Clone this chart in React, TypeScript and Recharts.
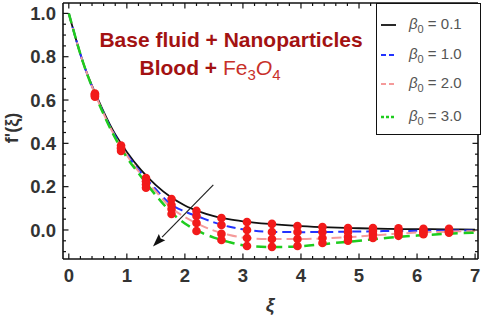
import React from "react";
import {
  ComposedChart,
  Line,
  Scatter,
  XAxis,
  YAxis,
  Legend,
  ReferenceLine,
} from "recharts";

// curve samples (xi) and f'(xi)
const xi = [0, 0.25, 0.5, 0.75, 1, 1.25, 1.5, 1.75, 2, 2.25, 2.5, 2.75, 3, 3.5, 4, 4.5, 5, 5.5, 6, 6.5, 7];
const beta01 = [1, 0.77, 0.605, 0.465, 0.36, 0.275, 0.207, 0.153, 0.113, 0.085, 0.064, 0.05, 0.04, 0.027, 0.018, 0.012, 0.008, 0.005, 0.004, 0.003, 0.002];
const beta10 = [1, 0.77, 0.6, 0.458, 0.35, 0.262, 0.188, 0.12, 0.085, 0.06, 0.035, 0.016, 0.003, -0.009, -0.01, -0.009, -0.007, -0.005, -0.004, -0.003, -0.002];
const beta20 = [1, 0.77, 0.598, 0.455, 0.345, 0.255, 0.178, 0.105, 0.06, 0.025, -0.003, -0.022, -0.035, -0.042, -0.042, -0.037, -0.03, -0.02, -0.012, -0.008, -0.005];
const beta30 = [1, 0.77, 0.596, 0.45, 0.335, 0.245, 0.16, 0.085, 0.03, -0.008, -0.035, -0.055, -0.07, -0.079, -0.075, -0.062, -0.05, -0.036, -0.026, -0.018, -0.012];

// red markers (numerical check points)
const dotXi = [0.45, 0.9, 1.33, 1.77, 2.2, 2.63, 3.07, 3.5, 3.94, 4.37, 4.81, 5.24, 5.68, 6.11, 6.55];
const dots01 = [0.63, 0.39, 0.24, 0.143, 0.088, 0.055, 0.037, 0.028, 0.018, 0.014, 0.009, 0.009, 0.008, 0.005, 0.005];
const dots10 = [0.625, 0.38, 0.225, 0.115, 0.065, 0.023, 0.0, -0.009, -0.009, -0.009, -0.009, -0.005, -0.004, -0.005, -0.005];
const dots20 = [0.62, 0.375, 0.21, 0.097, 0.032, -0.018, -0.037, -0.042, -0.042, -0.037, -0.032, -0.018, -0.014, -0.01, -0.008];
const dots30 = [0.615, 0.365, 0.195, 0.074, -0.005, -0.046, -0.074, -0.078, -0.074, -0.06, -0.05, -0.037, -0.027, -0.02, -0.013];

const legendLabels = ["0.1", "1.0", "2.0", "3.0"];

// arrow (start -> end) in data units
const arrowFrom = { x: 2.49, y: 0.208 };
const arrowTo = { x: 1.45, y: -0.076 };

const xTicks = Array.from({ length: 36 }, (_, i) => +(i * 0.2).toFixed(1));
const yTicks = Array.from({ length: 23 }, (_, i) => +(-0.1 + i * 0.05).toFixed(2));

const series = [
  { name: "0.1", vals: beta01, color: "#111111", dash: undefined, width: 1.8 },
  { name: "1.0", vals: beta10, color: "#2233ff", dash: "9 5", width: 2 },
  { name: "2.0", vals: beta20, color: "#f59a9a", dash: "10 5", width: 2 },
  { name: "3.0", vals: beta30, color: "#1ecc1e", dash: "10 6", width: 2.5 },
];

const dotSets = [dots01, dots10, dots20, dots30];
const toPts = (xs: number[], ys: number[]) => xs.map((x, i) => ({ x, y: ys[i] }));
const allDots = dotSets.flatMap((d) => toPts(dotXi, d));

const FONT = "'Liberation Sans', Arial, sans-serif";
const FRAME = "#111";
const TICK_FS = 18.5;

const isMajorX = (v: number) => Math.abs(v - Math.round(v)) < 1e-6;
const isMajorY = (v: number) => Math.abs(v / 0.2 - Math.round(v / 0.2)) < 1e-6;

const BottomTick = ({ x, y, payload }: any) => {
  const major = isMajorX(payload.value);
  return (
    <g>
      <line x1={x} x2={x} y1={y} y2={y - (major ? 5.5 : 3)} stroke={FRAME} strokeWidth={1.2} />
      {major && (
        <text x={x} y={y + 23} textAnchor="middle" fontFamily={FONT} fontWeight="bold" fontSize={TICK_FS} fill="#333">
          {Math.round(payload.value)}
        </text>
      )}
    </g>
  );
};

const TopTick = ({ x, y, payload }: any) => {
  const major = isMajorX(payload.value);
  return <line x1={x} x2={x} y1={y} y2={y + (major ? 5.5 : 3)} stroke={FRAME} strokeWidth={1.2} />;
};

const LeftTick = ({ x, y, payload }: any) => {
  const major = isMajorY(payload.value);
  return (
    <g>
      <line x1={x} x2={x + (major ? 5.5 : 3)} y1={y} y2={y} stroke={FRAME} strokeWidth={1.2} />
      {major && (
        <text x={x - 7} y={y + 6.6} textAnchor="end" fontFamily={FONT} fontWeight="bold" fontSize={TICK_FS} fill="#333">
          {payload.value.toFixed(1)}
        </text>
      )}
    </g>
  );
};

const RightTick = ({ x, y, payload }: any) => {
  const major = isMajorY(payload.value);
  return <line x1={x} x2={x - (major ? 5.5 : 3)} y1={y} y2={y} stroke={FRAME} strokeWidth={1.2} />;
};

const Arrow = (p: any) => {
  const { x1, y1, x2, y2 } = p;
  const ang = Math.atan2(y2 - y1, x2 - x1);
  const len = 13;
  const half = 4.5;
  const bx = x2 - len * Math.cos(ang);
  const by = y2 - len * Math.sin(ang);
  const nx = -Math.sin(ang) * half;
  const ny = Math.cos(ang) * half;
  const ix = bx + 2 * Math.cos(ang);
  const iy = by + 2 * Math.sin(ang);
  return (
    <g>
      <line x1={x1} y1={y1} x2={bx} y2={by} stroke="#222" strokeWidth={1.2} />
      <polygon points={`${x2},${y2} ${bx + nx},${by + ny} ${ix},${iy} ${bx - nx},${by - ny}`} fill="#111" />
    </g>
  );
};

const LegendBox = () => (
  <div
    style={{
      width: 105,
      height: 132,
      border: "1.5px solid #111",
      background: "#fff",
      boxSizing: "border-box",
      position: "relative",
      fontFamily: FONT,
    }}
  >
    {series.map((s, i) => (
      <div
        key={s.name}
        style={{ position: "absolute", left: 3, top: [21, 51, 80, 113][i] - 10, height: 20, display: "flex", alignItems: "center" }}
      >
        <svg width={18} height={10}>
          <line
            x1={1}
            x2={16}
            y1={5}
            y2={5}
            stroke={s.color}
            strokeWidth={s.width}
            strokeDasharray={i === 3 ? "3 2" : s.dash ? "5 3" : undefined}
          />
        </svg>
        <span style={{ marginLeft: 11, fontSize: 15, color: "#555", whiteSpace: "nowrap" }}>
          <i>β</i>
          <sub style={{ fontSize: 11 }}>0</sub> = {legendLabels[i]}
        </span>
      </div>
    ))}
  </div>
);

export default function App() {
  return (
    <div style={{ position: "absolute", left: 0, top: 0, width: 484, height: 319, background: "#fff" }}>
      <ComposedChart width={484} height={319} margin={{ top: 0, right: 0, bottom: 0, left: 0 }}>
        <XAxis
          xAxisId="b"
          dataKey="x"
          type="number"
          domain={[-0.1, 7.05]}
          allowDataOverflow
          ticks={xTicks}
          interval={0}
          height={60}
          tickSize={0}
          tickMargin={0}
          tickLine={false}
          tick={<BottomTick />}
          axisLine={{ stroke: FRAME, strokeWidth: 1.6 }}
        />
        <XAxis
          xAxisId="t"
          orientation="top"
          dataKey="x"
          type="number"
          domain={[-0.1, 7.05]}
          allowDataOverflow
          ticks={xTicks}
          interval={0}
          height={3}
          tickSize={0}
          tickMargin={0}
          tickLine={false}
          tick={<TopTick />}
          axisLine={{ stroke: FRAME, strokeWidth: 1.6 }}
        />
        <YAxis
          yAxisId="l"
          dataKey="y"
          type="number"
          domain={[-0.134, 1.048]}
          allowDataOverflow
          ticks={yTicks}
          interval={0}
          width={63}
          tickSize={0}
          tickMargin={0}
          tickLine={false}
          tick={<LeftTick />}
          axisLine={{ stroke: FRAME, strokeWidth: 1.6 }}
        />
        <YAxis
          yAxisId="r"
          orientation="right"
          dataKey="y"
          type="number"
          domain={[-0.134, 1.048]}
          allowDataOverflow
          ticks={yTicks}
          interval={0}
          width={6}
          tickSize={0}
          tickMargin={0}
          tickLine={false}
          tick={<RightTick />}
          axisLine={{ stroke: FRAME, strokeWidth: 1.6 }}
        />
        {series.map((s) => (
          <Line
            key={s.name}
            xAxisId="b"
            yAxisId="l"
            data={toPts(xi, s.vals)}
            dataKey="y"
            name={s.name}
            type="monotone"
            stroke={s.color}
            strokeWidth={s.width}
            strokeDasharray={s.dash}
            dot={false}
            isAnimationActive={false}
          />
        ))}
        <Scatter
          xAxisId="b"
          yAxisId="l"
          data={allDots}
          dataKey="y"
          fill="#f21a1a"
          shape={(p: any) => <circle cx={p.cx} cy={p.cy} r={4.3} fill="#f21a1a" />}
          isAnimationActive={false}
        />
        <ReferenceLine
          xAxisId="b"
          yAxisId="l"
          segment={[arrowFrom, arrowTo]}
          ifOverflow="visible"
          shape={<Arrow />}
        />
        <Legend
          layout="vertical"
          align="center"
          verticalAlign="middle"
          content={<LegendBox />}
          wrapperStyle={{ position: "absolute", left: 376, top: 3, width: 105, height: 132 }}
        />
      </ComposedChart>

      <div
        style={{
          position: "absolute",
          left: 231,
          top: 29,
          transform: "translateX(-50%)",
          whiteSpace: "nowrap",
          fontFamily: FONT,
          fontWeight: "bold",
          fontSize: 21,
          lineHeight: "21px",
          color: "#a31212",
        }}
      >
        Base fluid + Nanoparticles
      </div>
      <div
        style={{
          position: "absolute",
          left: 210,
          top: 57,
          transform: "translateX(-50%)",
          whiteSpace: "nowrap",
          fontFamily: FONT,
          fontSize: 21,
          lineHeight: "21px",
        }}
      >
        <span style={{ fontWeight: "bold", color: "#a31212" }}>Blood + </span>
        <span style={{ color: "#c8302a" }}>
          Fe<sub style={{ fontSize: 15, lineHeight: 0 }}>3</sub>
          <i>O</i>
          <sub style={{ fontSize: 15, lineHeight: 0 }}>4</sub>
        </span>
      </div>
      <div
        style={{
          position: "absolute",
          left: 12,
          top: 128,
          transform: "translate(-50%, -50%) rotate(-90deg)",
          whiteSpace: "nowrap",
          fontFamily: FONT,
          fontWeight: "bold",
          fontSize: 18,
          color: "#333",
        }}
      >
        f'(ξ)
      </div>
      <div
        style={{
          position: "absolute",
          left: 270,
          top: 305,
          transform: "translate(-50%, -50%)",
          fontFamily: FONT,
          fontWeight: "bold",
          fontStyle: "italic",
          fontSize: 19,
          color: "#333",
        }}
      >
        ξ
      </div>
    </div>
  );
}
